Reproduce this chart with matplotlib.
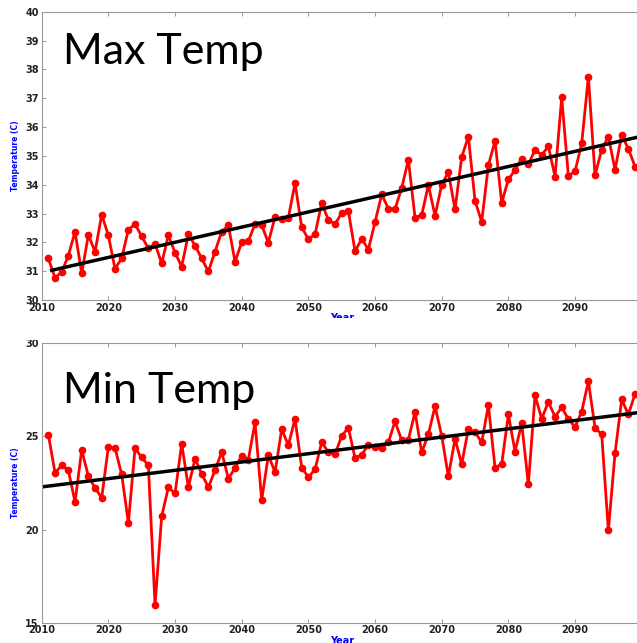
import numpy as np
import matplotlib
matplotlib.use('Agg')
import matplotlib.pyplot as plt
from matplotlib.patches import Rectangle

years = np.arange(2011, 2100)

max_temp = [31.44, 30.77, 30.97, 31.54, 32.37, 30.92, 32.26, 31.67, 32.96, 32.24,
            31.08, 31.45, 32.44, 32.63, 32.21, 31.79, 31.95, 31.27, 32.25, 31.64,
            31.16, 32.28, 31.89, 31.44, 30.99, 31.68, 32.37, 32.59, 31.33, 32.00,
            32.04, 32.64, 32.59, 31.99, 32.89, 32.81, 32.86, 34.05, 32.53, 32.10,
            32.28, 33.36, 32.78, 32.63, 33.02, 33.09, 31.69, 32.12, 31.75, 32.70,
            33.66, 33.17, 33.15, 33.89, 34.86, 32.86, 32.94, 33.99, 32.92, 34.00,
            34.43, 33.14, 34.96, 35.67, 33.44, 32.71, 34.67, 35.52, 33.37, 34.18,
            34.51, 34.90, 34.70, 35.21, 35.03, 35.33, 34.28, 37.03, 34.31, 34.46,
            35.43, 37.74, 34.33, 35.21, 35.67, 34.52, 35.72, 35.24, 34.63]

min_temp = [25.09, 23.05, 23.44, 23.18, 21.47, 24.27, 22.87, 22.24, 21.70, 24.44,
            24.37, 22.96, 20.36, 24.36, 23.87, 23.44, 15.94, 20.72, 22.26, 21.94,
            24.61, 22.28, 23.79, 23.00, 22.26, 23.19, 24.16, 22.74, 23.30, 23.97,
            23.76, 25.75, 21.58, 24.00, 23.08, 25.39, 24.53, 25.95, 23.33, 22.81,
            23.23, 24.68, 24.16, 24.04, 25.02, 25.47, 23.84, 24.02, 24.55, 24.43,
            24.39, 24.68, 25.81, 24.79, 24.82, 26.31, 24.14, 25.11, 26.62, 25.04,
            22.85, 24.87, 23.51, 25.41, 25.23, 24.68, 26.67, 23.33, 23.51, 26.18,
            24.19, 25.70, 22.42, 27.20, 25.95, 26.85, 26.06, 26.56, 25.93, 25.50,
            26.33, 27.96, 25.47, 25.11, 19.95, 24.09, 26.99, 26.18, 27.28]

# trend lines (end points)
max_trend_x = [2011.5, 2100]
max_trend_y = [31.03, 35.68]
min_trend_x = [2010, 2100]
min_trend_y = [22.29, 26.30]

panels = [
    ('Max Temp', max_temp, max_trend_x, max_trend_y, (30, 40), np.arange(30, 41, 1)),
    ('Min Temp', min_temp, min_trend_x, min_trend_y, (15, 30), np.arange(15, 31, 5)),
]

W, H = 637, 643
fig = plt.figure(figsize=(W / 100, H / 100), dpi=100)

# axes boxes in pixels: left, top, right, bottom
boxes = [(41.7, 11.7, 641.7, 300.0), (41.7, 343.3, 641.7, 622.7)]
title_y = [0.82, 0.785]

for (title, vals, tx, ty, ylim, yticks), (l, t, r, b), tyy in zip(panels, boxes, title_y):
    ax = fig.add_axes([l / W, 1 - b / H, (r - l) / W, (b - t) / H])
    ax.plot(years, vals, '-o', color='red', lw=2.0, ms=4.5, mfc='red', mec='red')
    ax.plot(tx, ty, color='black', lw=2.5)
    ax.set_xlim(2010, 2100)
    ax.set_ylim(*ylim)
    ax.set_xticks(np.arange(2010, 2100, 10))
    ax.set_yticks(yticks)
    ax.tick_params(direction='in', length=3, width=0.6, color='#888888',
                   top=True, right=True, labelsize=7, pad=2)
    for lab in ax.get_xticklabels() + ax.get_yticklabels():
        lab.set_fontweight('bold')
        lab.set_color('#222222')
    for s in ax.spines.values():
        s.set_color('#999999')
        s.set_linewidth(0.8)
    ax.set_ylabel('Temperature (C)', color='blue', fontsize=5.5, fontweight='bold', labelpad=4)
    ax.set_xlabel('Year', color='blue', fontsize=7, fontweight='bold', labelpad=0.5)
    ax.text(0.035, tyy, title, transform=ax.transAxes,
            fontsize=31, family='Lato', color='black')

# the top panel's x label is cut off in the original layout
fig.patches.append(Rectangle((0, 1 - 340 / H), 1, 22 / H, transform=fig.transFigure,
                             facecolor='white', edgecolor='none', zorder=5))

fig.savefig('out.png', dpi=100)
